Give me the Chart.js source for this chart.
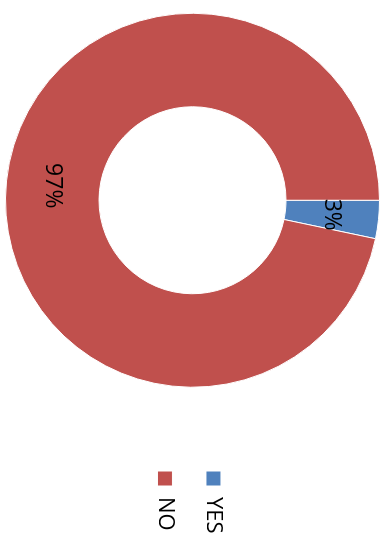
<!DOCTYPE html>
<html>
<head>
<meta charset="utf-8">
<script src="https://cdn.jsdelivr.net/npm/chart.js@4"></script>
<style>
  html, body { margin: 0; padding: 0; background: #fff; overflow: hidden; }
  /* chart is laid out landscape and turned a quarter turn clockwise;
     the first 44px of it sit above the window so the ring lands where it should */
  #box {
    position: absolute; left: 0; top: 0;
    width: 579px; height: 380px;
    transform-origin: 0 0;
    transform: translate(380px, -44px) rotate(90deg);
  }
</style>
</head>
<body>
<div id="box"><canvas id="myChart"></canvas></div>
<script>
const labels = ["YES", "NO"];
const values = [3.3, 96.7];
const colors = ["#4F81BD", "#C0504D"];

// percent text in the middle of each ring slice
const sliceLabels = {
  id: "sliceLabels",
  afterDatasetsDraw(chart) {
    const ctx = chart.ctx;
    const meta = chart.getDatasetMeta(0);
    const total = values.reduce((a, b) => a + b, 0);
    ctx.save();
    ctx.font = '23px "Open Sans", Arial, sans-serif';
    ctx.fillStyle = "#000";
    ctx.textAlign = "center";
    ctx.textBaseline = "middle";
    meta.data.forEach((arc, i) => {
      const p = arc.tooltipPosition();
      ctx.fillText(Math.round(values[i] / total * 100) + "%", p.x, p.y);
    });
    ctx.restore();
  }
};

var ctx = document.getElementById("myChart").getContext("2d");
var myChart = new Chart(ctx, {
  type: "doughnut",
  data: {
    labels: labels,
    datasets: [
      {
        data: values,
        backgroundColor: colors,
        borderColor: "#fff",
        borderWidth: 1,
      },
    ],
  },
  options: {
    responsive: true,
    maintainAspectRatio: false,
    animation: false,
    devicePixelRatio: 1,
    cutout: "50%",
    layout: { padding: { left: 0, right: 0, top: 0, bottom: 5 } },
    plugins: {
      tooltip: { enabled: false },
      legend: {
        position: "right",
        maxWidth: 90.5,
        title: { display: true, text: "", padding: 0, font: { size: 5.5 } },
        labels: {
          boxWidth: 15,
          boxHeight: 15,
          padding: 26.5,
          color: "#000",
          font: { family: "'Open Sans', Arial, sans-serif", size: 22 },
        },
      },
    },
  },
  plugins: [sliceLabels],
});
</script>
</body>
</html>
